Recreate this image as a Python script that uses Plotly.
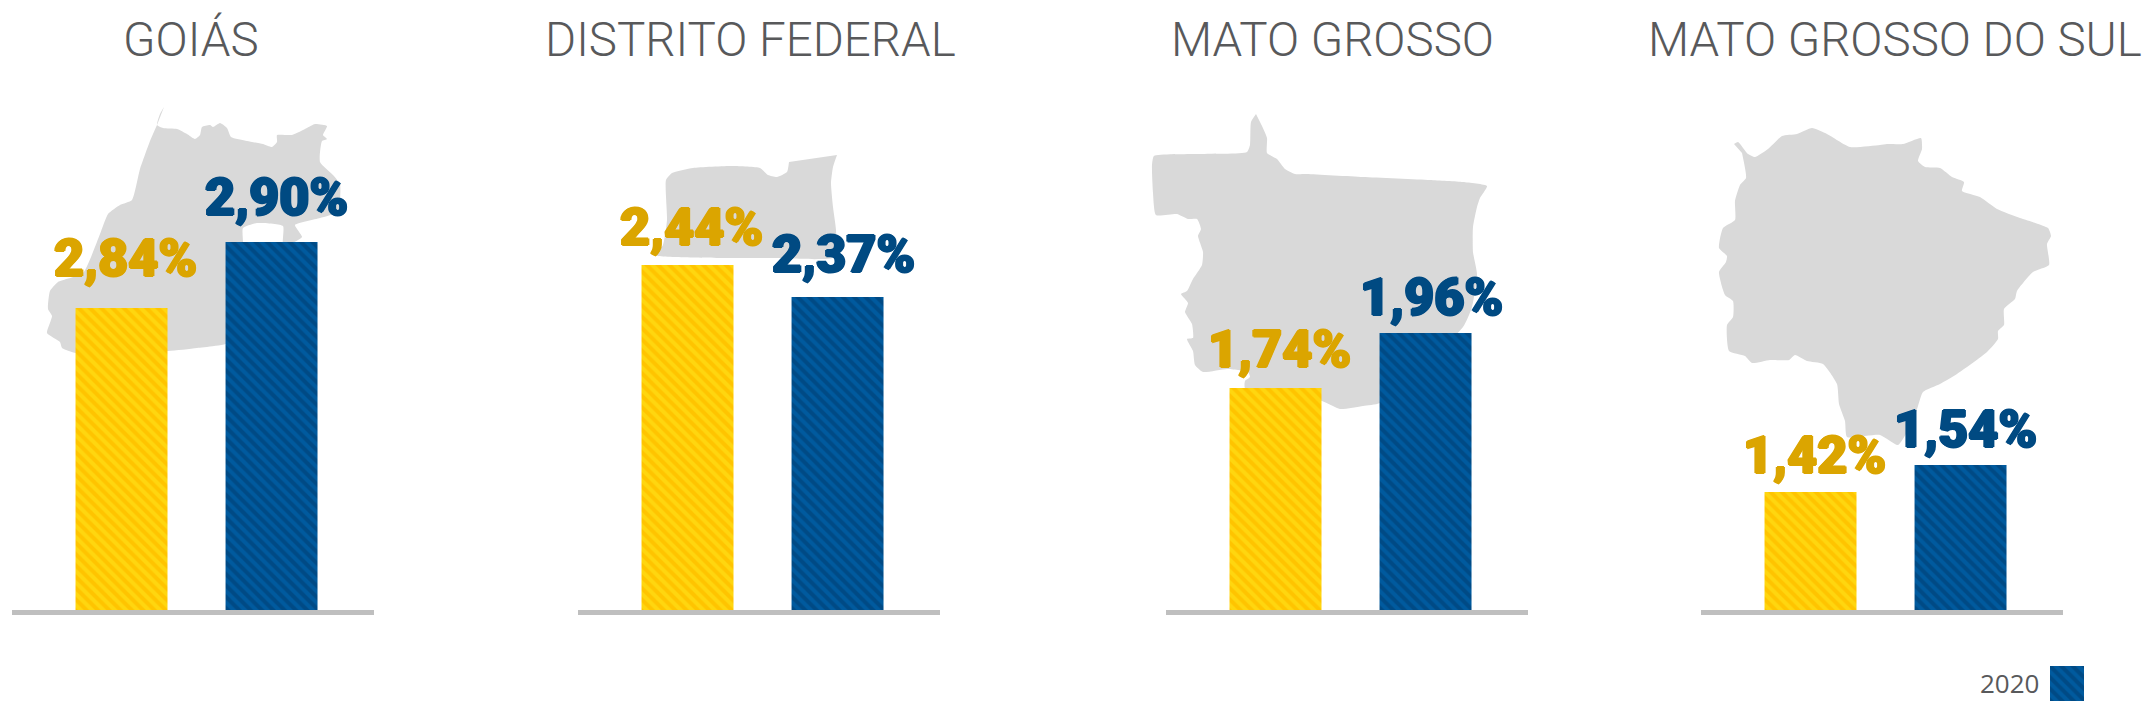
import plotly.graph_objects as go

W, H = 2146, 728

states = ["GOIÁS", "DISTRITO FEDERAL", "MATO GROSSO", "MATO GROSSO DO SUL"]
title_centres = [191, 750, 1332, 1895]
panel_lefts = [12, 578, 1166, 1701]
panel_width = 362
periods = ["Ano anterior", "Ano 2020"]

# Labels printed on the chart, and the heights the bars are actually drawn at
yellow_labels = ["2,84%", "2,44%", "1,74%", "1,42%"]
blue_labels = ["2,90%", "2,37%", "1,96%", "1,54%"]
yellow_heights = [302, 345, 222, 118]
blue_heights = [368, 313, 277, 145]

# Distance of each label from its bar top, which varies in the picture
yellow_lift = [17, 5, 6, 4]
blue_lift = [12, 10, 3, 3]
yellow_nudge = [4, 3.5, 4, 3.5]
blue_nudge = [5, 5.5, 5.5, 5]

legend_label = "2020"

# Background silhouettes in canvas pixels
goias_x = [164, 160, 157, 163, 177, 187, 195, 200, 202, 210, 213, 220, 227, 231, 247, 263, 272, 277, 277, 292, 307, 315, 327, 323, 327, 322, 320, 333, 340, 340, 338, 320, 295, 302, 290, 283, 283, 257, 243, 243, 233, 197, 168, 76, 62, 60, 47, 52, 48, 50, 58, 83, 100, 108, 120, 132, 140, 150, 157]
goias_y = [107, 114, 125, 128, 129, 134, 139, 135, 127, 125, 127, 123, 128, 137, 141, 144, 147, 142, 135, 135, 128, 124, 126, 135, 139, 141, 162, 175, 184, 201, 212, 218, 225, 237, 244, 244, 226, 223, 228, 244, 341, 348, 351, 353, 348, 342, 333, 316, 309, 291, 282, 273, 234, 214, 205, 200, 169, 141, 125]
df_x = [837, 833, 831, 833, 836, 835, 773, 727, 655, 663, 667, 666, 672, 693, 733, 760, 768, 777, 787, 789]
df_y = [155, 167, 183, 207, 230, 257, 258, 258, 255, 245, 220, 180, 173, 168, 166, 168, 175, 177, 172, 162]
mt_x = [1256, 1251, 1250, 1247, 1197, 1154, 1152, 1153, 1156, 1177, 1188, 1197, 1201, 1198, 1203, 1202, 1193, 1187, 1181, 1188, 1185, 1192, 1193, 1187, 1193, 1195, 1203, 1227, 1248, 1250, 1245, 1245, 1322, 1340, 1363, 1380, 1463, 1472, 1477, 1473, 1473, 1477, 1480, 1487, 1463, 1430, 1363, 1307, 1295, 1285, 1277, 1267, 1267, 1262]
mt_y = [114, 122, 145, 152, 154, 156, 165, 193, 215, 214, 219, 219, 229, 236, 252, 265, 279, 291, 294, 303, 312, 324, 338, 339, 351, 365, 372, 369, 372, 377, 381, 388, 401, 409, 406, 403, 327, 307, 274, 252, 227, 207, 198, 186, 182, 180, 177, 174, 174, 169, 159, 153, 138, 126]
ms_x = [1734, 1738, 1748, 1755, 1768, 1782, 1797, 1812, 1827, 1850, 1880, 1887, 1903, 1921, 1922, 1918, 1925, 1940, 1952, 1964, 1962, 1980, 1997, 2020, 2048, 2051, 2047, 2049, 2033, 2017, 2015, 2004, 2004, 1998, 1998, 1987, 1957, 1940, 1923, 1918, 1913, 1898, 1880, 1847, 1845, 1839, 1837, 1823, 1807, 1795, 1789, 1770, 1752, 1745, 1729, 1727, 1733, 1733, 1725, 1719, 1726, 1727, 1719, 1723, 1735, 1735, 1740, 1746, 1742]
ms_y = [144, 142, 154, 157, 149, 136, 134, 128, 134, 147, 145, 144, 144, 138, 149, 161, 167, 168, 177, 182, 191, 197, 209, 218, 228, 236, 244, 265, 272, 291, 299, 309, 325, 331, 339, 352, 374, 384, 392, 406, 421, 445, 435, 437, 421, 404, 384, 364, 361, 355, 360, 360, 363, 356, 351, 325, 317, 301, 295, 272, 262, 256, 248, 228, 220, 201, 185, 178, 153]
outlines = [(goias_x, goias_y), (df_x, df_y), (mt_x, mt_y), (ms_x, ms_y)]

GREY = "#D9D9D9"
YELLOW_BG, YELLOW_FG = "#FFC400", "#FFD60F"
BLUE_BG, BLUE_FG = "#005A9E", "#004A85"
YELLOW_TEXT, BLUE_TEXT = "#DBA500", "#004A82"
TITLE = "#58595B"
LABEL_FONT = "Roboto"
TITLE_FONT = "Roboto"

def pat(bg, fg):
    return dict(color=bg, line=dict(width=0),
                pattern=dict(shape="\\", fgcolor=fg, bgcolor=bg, size=8, solidity=0.5, fillmode="replace"))

def heavy(col):
    s = 1.2
    return f"{s}px 0 0 {col}, -{s}px 0 0 {col}, 0 {s}px 0 {col}, 0 -{s}px 0 {col}"

fig = go.Figure()

# Full-canvas axes under everything for the silhouettes
for ox, oy in outlines:
    fig.add_trace(go.Scatter(x=ox, y=oy, mode="lines", fill="toself", fillcolor=GREY,
                             line=dict(color=GREY, width=0, shape="spline", smoothing=0.5),
                             hoverinfo="skip", showlegend=False, xaxis="x", yaxis="y"))

layout = dict(
    xaxis=dict(domain=[0, 1], range=[0, W], visible=False, fixedrange=True),
    yaxis=dict(domain=[0, 1], range=[H, 0], visible=False, fixedrange=True),
)

BASE = 610
TOP = 100
annotations = []

for i in range(4):
    n = i + 2
    xa, ya = f"x{n}", f"y{n}"
    fig.add_trace(go.Bar(x=[periods[0]], y=[yellow_heights[i]], width=0.613, marker=pat(YELLOW_BG, YELLOW_FG),
                         hoverinfo="skip", showlegend=False, xaxis=xa, yaxis=ya))
    fig.add_trace(go.Bar(x=[periods[1]], y=[blue_heights[i]], width=0.613, marker=pat(BLUE_BG, BLUE_FG),
                         hoverinfo="skip", showlegend=False, xaxis=xa, yaxis=ya))
    layout[f"xaxis{n}"] = dict(domain=[panel_lefts[i] / W, (panel_lefts[i] + panel_width) / W],
                               anchor=f"y{n}", type="category", categoryorder="array", categoryarray=periods,
                               range=[-0.73, 1.683],
                               showticklabels=False, ticks="", showgrid=False, zeroline=False,
                               showline=True, linecolor="#BFBFBF", linewidth=5, fixedrange=True)
    layout[f"yaxis{n}"] = dict(domain=[1 - BASE / H, 1 - TOP / H], anchor=f"x{n}",
                               range=[0, BASE - TOP], visible=False, fixedrange=True)
    for label, height, per, col, lift, nudge in (
            (yellow_labels[i], yellow_heights[i], periods[0], YELLOW_TEXT, yellow_lift[i], yellow_nudge[i]),
            (blue_labels[i], blue_heights[i], periods[1], BLUE_TEXT, blue_lift[i], blue_nudge[i])):
        annotations.append(dict(x=per, y=height, xref=xa, yref=ya, text=label,
                                showarrow=False, xanchor="center", yanchor="bottom", xshift=nudge, yshift=lift,
                                font=dict(family=LABEL_FONT, size=52, color=col, weight=900, shadow=heavy(col))))
    annotations.append(dict(x=title_centres[i], y=40, xref="x", yref="y", text=states[i], showarrow=False,
                            xanchor="center", yanchor="middle",
                            font=dict(family=TITLE_FONT, size=47.5, color=TITLE, weight=300)))

# Legend key: one swatch and its year
fig.add_trace(go.Bar(x=[legend_label], y=[1], width=1,
                     marker=pat(BLUE_BG, BLUE_FG), hoverinfo="skip", showlegend=False,
                     xaxis="x6", yaxis="y6"))
layout["xaxis6"] = dict(domain=[2050 / W, 2084 / W], anchor="y6", type="category", visible=False, fixedrange=True)
layout["yaxis6"] = dict(domain=[1 - 701 / H, 1 - 666 / H], anchor="x6", range=[0, 1], visible=False, fixedrange=True)
annotations.append(dict(x=2041, y=683, xref="x", yref="y", text=legend_label, showarrow=False,
                        xanchor="right", yanchor="middle",
                        font=dict(family="Open Sans", size=26, color="#58595B")))

fig.update_layout(**layout, annotations=annotations, width=W, height=H,
                  margin=dict(l=0, r=0, t=0, b=0), paper_bgcolor="white", plot_bgcolor="rgba(0,0,0,0)",
                  barmode="overlay", showlegend=False)

fig.write_html("out.html", config=dict(displayModeBar=False),
               post_script="document.body.style.margin='0';")
